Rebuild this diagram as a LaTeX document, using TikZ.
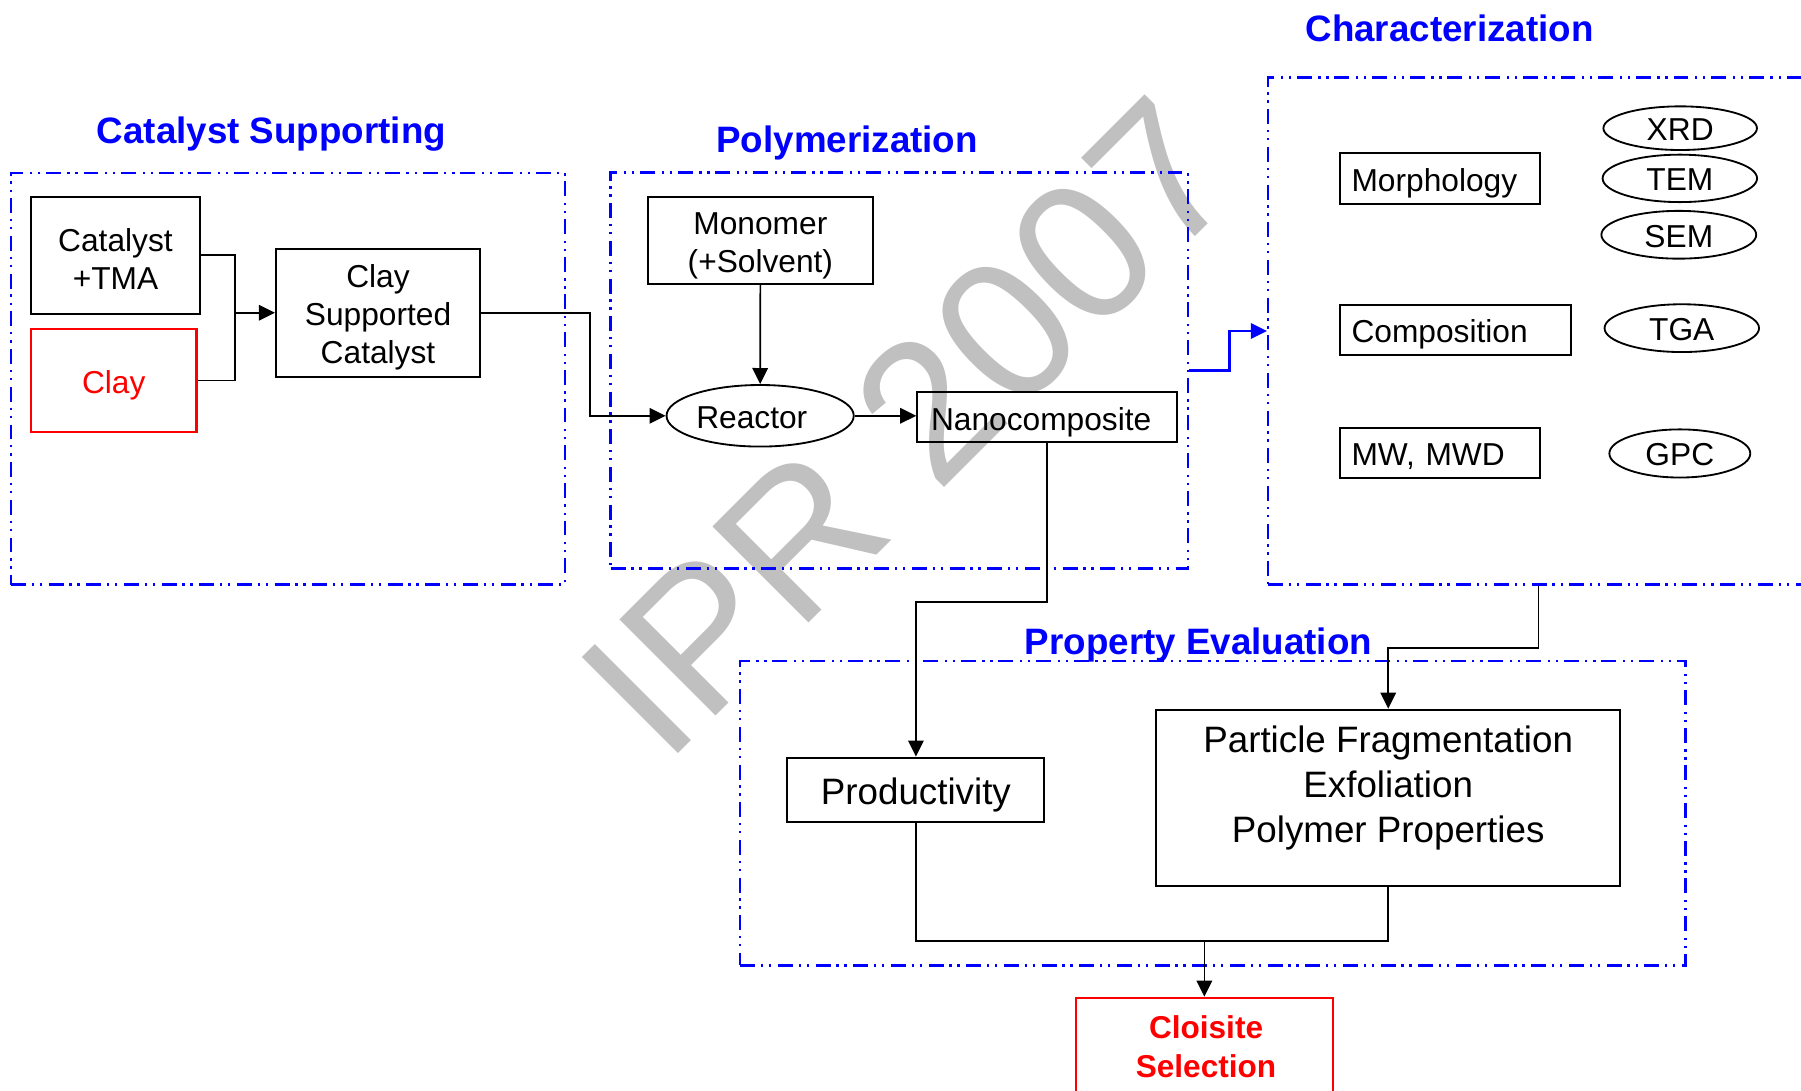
\documentclass[tikz,border=0pt]{standalone}
\usepackage{fontspec}
\setmainfont{Liberation Sans}
\usetikzlibrary{arrows.meta,shapes.geometric}
\definecolor{frameblue}{HTML}{0000FF}
\definecolor{markred}{HTML}{FF0000}
\definecolor{wmgray}{HTML}{C0C0C0}

\begin{document}
\begin{tikzpicture}[x=1pt,y=-1pt,
  body/.style={font=\fontsize{27.6}{33}\selectfont},
  big/.style={font=\fontsize{32}{39}\selectfont},
  heading/.style={font=\fontsize{32}{38}\selectfont\bfseries, text=frameblue, inner sep=0pt},
  frame/.style={draw=frameblue, line width=2pt,
    dash pattern=on 13pt off 5pt on 2pt off 5pt on 2pt off 5.8pt, inner sep=0pt},
  box/.style={draw, line width=1.8pt, inner sep=0pt},
  txt/.style={body, align=center, inner sep=0pt},
  lbox/.style={draw, line width=1.8pt, inner ysep=0pt, align=left,
    minimum height=44pt, text height=22pt, text depth=0pt, body},
  oval/.style={draw, ellipse, line width=1.6pt, inner sep=0pt, body,
    text height=21.8pt, text depth=0pt},
  conn/.style={line width=1.5pt},
  arr/.style={conn, -{Triangle[length=14pt,width=13.5pt]}},
]
\useasboundingbox (0,0) rectangle (1568,949);
\clip (0,0) rectangle (1568,949);
\fill[white] (0,0) rectangle (1568,949);

% watermark behind everything
\node[rotate=45, anchor=base west, inner sep=0pt, text=wmgray,
      font=\fontsize{172}{172}\selectfont] (wm) at (579.5,667.5) {IPR 2007};

% section frames
\node[frame, minimum width=482pt, minimum height=358.5pt] (csframe) at (250.6,329.75) {};
\node[frame, minimum width=502.9pt, minimum height=344.9pt] (polyframe) at (783.05,322.55) {};
\node[frame, minimum width=470.8pt, minimum height=441.2pt] (charframe) at (1339.4,288.2) {};
\node[frame, minimum width=822.8pt, minimum height=265pt] (propframe) at (1055.9,708) {};

% section headings
\node[heading] (t1) at (236.3,116.5) {Catalyst Supporting};
\node[heading] (t2) at (737.5,124.5) {Polymerization};
\node[heading] (t3) at (1262,25) {Characterization};
\node[heading] (t4) at (1043.4,561.5) {Property Evaluation};

% catalyst supporting
\node[box, minimum width=147.3pt, minimum height=101.5pt] (cat) at (100.55,222.25) {};
\node[txt, yshift=-3pt] (cattext) at (cat.center) {Catalyst\\+TMA};
\node[box, draw=markred, text=markred, body, minimum width=144.2pt, minimum height=89.5pt,
      text height=22.4pt, text depth=0pt] (clay) at (99,331.25) {Clay};
\node[box, minimum width=177.6pt, minimum height=111.8pt] (csc) at (329.1,272.3) {};
\node[txt, yshift=-4pt] (csctext) at (csc.center) {Clay\\Supported\\Catalyst};

% polymerization
\node[box, minimum width=196pt, minimum height=75.6pt] (monomer) at (662,209.1) {};
\node[txt, yshift=-5pt] (monotext) at (monomer.center) {Monomer\\(+Solvent)};
\node[oval, minimum width=163pt, minimum height=53.6pt] (reactor) at (661.8,362) {};
\node[body, inner sep=0pt] (reactortext) at (654.5,364) {Reactor};
\node[lbox, inner xsep=12pt, text width=201.9pt, text height=24.4pt] (nano) at (911.55,363) {Nanocomposite};

% characterization
\node[lbox, inner xsep=10.4pt, text width=154pt] (morph) at (1253.7,155.3) {Morphology};
\node[lbox, inner xsep=10.4pt, text width=180.3pt] (comp) at (1266.85,287.2) {Composition};
\node[lbox, inner xsep=10.4pt, text width=154pt] (mw) at (1253.7,394.5) {MW, MWD};
\node[oval, minimum width=133.7pt, minimum height=38pt] (xrd) at (1462.8,111.6) {XRD};
\node[oval, minimum width=134.5pt, minimum height=41.3pt] (tem) at (1462.5,155.3) {TEM};
\node[oval, minimum width=134.8pt, minimum height=41.6pt] (sem) at (1461.6,204.4) {SEM};
\node[oval, minimum width=134.5pt, minimum height=41.6pt] (tga) at (1464.2,285.7) {TGA};
\node[oval, minimum width=122.7pt, minimum height=41.9pt] (gpc) at (1462.5,394.8) {GPC};

% property evaluation
\node[box, big, minimum width=223.8pt, minimum height=56.4pt,
      text height=24.6pt, text depth=0pt] (prod) at (797.4,687.8) {Productivity};
\node[box, minimum width=404.2pt, minimum height=153.5pt] (pf) at (1208.6,694.65) {};
\node[big, align=center, inner sep=0pt] (pftext) at (1208.6,686.2) {Particle Fragmentation\\Exfoliation\\Polymer Properties};

% final selection
\node[draw=markred, line width=1.8pt, minimum width=223.5pt, minimum height=91.4pt, inner sep=0pt] (sel) at (1048.55,914.3) {};
\node[font=\fontsize{27.5}{33.7}\selectfont\bfseries, text=markred, align=center, inner sep=0pt] (seltext) at (1050,911) {Cloisite\\Selection};

% connectors
\coordinate (j1) at (204.9,272.3);
\draw[conn] (cat.east) -| (j1);
\draw[conn] (clay.east) -| (j1);
\draw[arr] (j1) -- (csc.west);
\draw[arr] (csc.east) -- ++(95.1,0) |- (reactor.west);
\draw[arr] (monomer.south) -- (reactor.north);
\draw[arr] (reactor.east) -- (reactor.east -| nano.west);
\draw[arr] (nano.south) -- ++(0,138.3) -| (prod.north);
\draw[arr, draw=frameblue, line width=1.8pt] (polyframe.east) -- ++(34.9,0) |- (charframe.west);
\draw[arr] (charframe.south) -- ++(0,54.2) -| (pf.north);
\coordinate (m) at (1048.55,819.5);
\draw[conn] (prod.south) |- (m);
\draw[conn] (pf.south) |- (m);
\draw[arr] (m) -- (sel.north);
\end{tikzpicture}
\end{document}
